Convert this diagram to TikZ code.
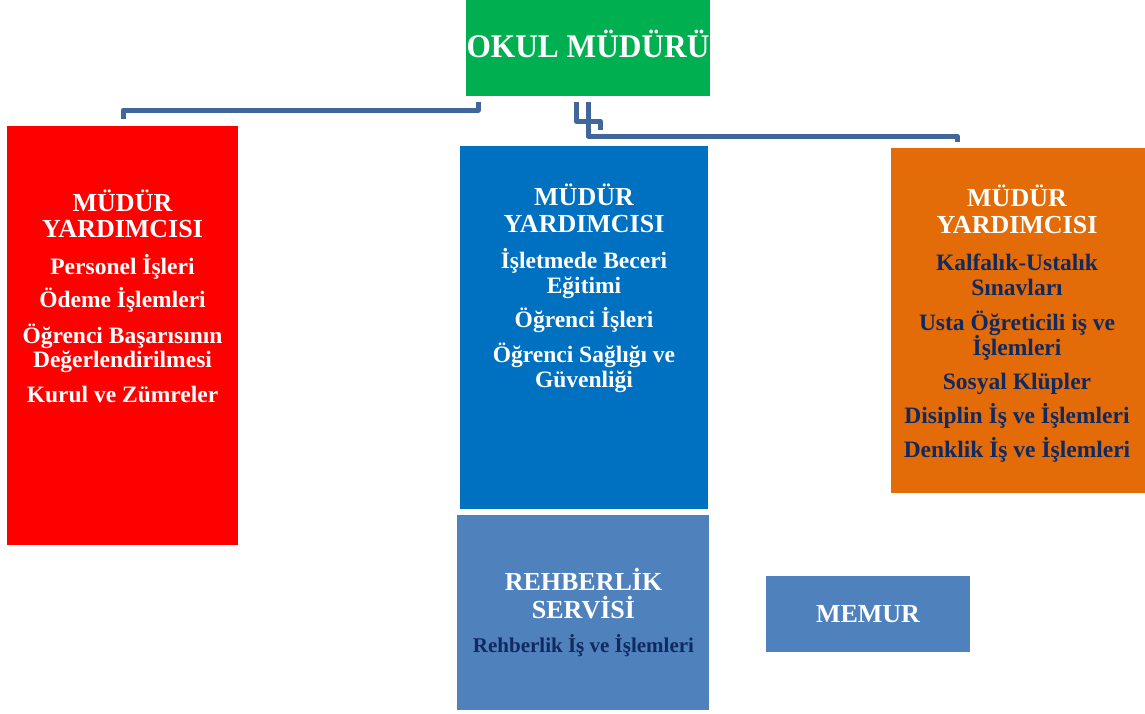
\documentclass[tikz,border=0pt]{standalone}
\usepackage{fontspec}
\setmainfont{Liberation Serif}
\definecolor{cgreen}{HTML}{00B050}
\definecolor{cred}{HTML}{FF0000}
\definecolor{cblue}{HTML}{0070C0}
\definecolor{corange}{HTML}{E36C09}
\definecolor{csteel}{HTML}{4F81BD}
\definecolor{cnavy}{HTML}{10295F}
\definecolor{cline}{HTML}{41679A}
\tikzset{
  box/.style={draw=none, inner sep=0pt, outer sep=0pt, anchor=north west},
  ttl/.style={font=\fontsize{26}{26}\selectfont\bfseries, text=white, anchor=base, inner sep=0pt},
  bdy/.style={font=\fontsize{23.5}{23.5}\selectfont\bfseries, text=white, anchor=base, inner sep=0pt},
  bdyn/.style={bdy, text=cnavy},
  conn/.style={draw=cline, line width=5pt, line join=round},
}
\begin{document}
\begin{tikzpicture}[x=1pt, y=-1pt]
\useasboundingbox (0,0) rectangle (1145,713);
% boxes
\node[box, fill=cgreen, minimum width=244pt, minimum height=96pt] (okul) at (466,0) {};
\node[box, fill=cred, minimum width=231pt, minimum height=419pt] (red) at (7,126) {};
\node[box, fill=cblue, minimum width=248pt, minimum height=363pt] (blue) at (460,146) {};
\node[box, fill=corange, minimum width=254pt, minimum height=345pt] (orange) at (891,148) {};
\node[box, fill=csteel, minimum width=252pt, minimum height=195pt] (rehber) at (457,515) {};
\node[box, fill=csteel, minimum width=204pt, minimum height=76pt] (memur) at (766,576) {};
% title of top box
\node[anchor=base, inner sep=0pt, text=white, font=\fontsize{33}{33}\selectfont\bfseries] (okult) at (588,57) {\scalebox{0.95}[1]{OKUL MÜDÜRÜ}};
% red box texts
\foreach \t/\y [count=\i] in {MÜDÜR/211, YARDIMCISI/237}
  \node[ttl] (rt\i) at (122.5,\y) {\t};
\foreach \t/\y [count=\i] in {Personel İşleri/274, Ödeme İşlemleri/307, Öğrenci Başarısının/343, Değerlendirilmesi/367, Kurul ve Zümreler/402}
  \node[bdy] (rb\i) at (122.5,\y) {\t};
% blue box texts
\foreach \t/\y [count=\i] in {MÜDÜR/205, YARDIMCISI/232}
  \node[ttl] (bt\i) at (584,\y) {\t};
\foreach \t/\y [count=\i] in {İşletmede Beceri/268, Eğitimi/293, Öğrenci İşleri/327, Öğrenci Sağlığı ve/362, Güvenliği/387}
  \node[bdy] (bb\i) at (584,\y) {\t};
% orange box texts
\foreach \t/\y [count=\i] in {MÜDÜR/206, YARDIMCISI/233}
  \node[ttl] (ot\i) at (1017,\y) {\t};
\foreach \t/\y [count=\i] in {Kalfalık-Ustalık/270, Sınavları/295, Usta Öğreticili iş ve/330, İşlemleri/355, Sosyal Klüpler/389, Disiplin İş ve İşlemleri/423, Denklik İş ve İşlemleri/457}
  \node[bdyn] (ob\i) at (1017,\y) {\t};
% rehberlik texts
\node[ttl] (gt1) at (583.5,590) {REHBERLİK};
\node[ttl] (gt2) at (583.5,618) {SERVİSİ};
\node[bdyn, font=\fontsize{21}{21}\selectfont\bfseries] (gb1) at (583.5,652) {Rehberlik İş ve İşlemleri};
% memur text
\node[ttl] (mt) at (868,622) {MEMUR};
% connectors
\coordinate (c1s) at (478,102);
\coordinate (c1e) at (123,119);
\coordinate (c2s) at (576,102);
\coordinate (c2e) at (600,130);
\coordinate (c3s) at (588,102);
\coordinate (c3e) at (957,142);
\draw[conn] (c1s) -- ++(0,8) -| (c1e);
\draw[conn] (c2s) -- ++(0,19) -| (c2e);
\draw[conn] (c3s) -- ++(0,34) -| (c3e);
\end{tikzpicture}
\end{document}
